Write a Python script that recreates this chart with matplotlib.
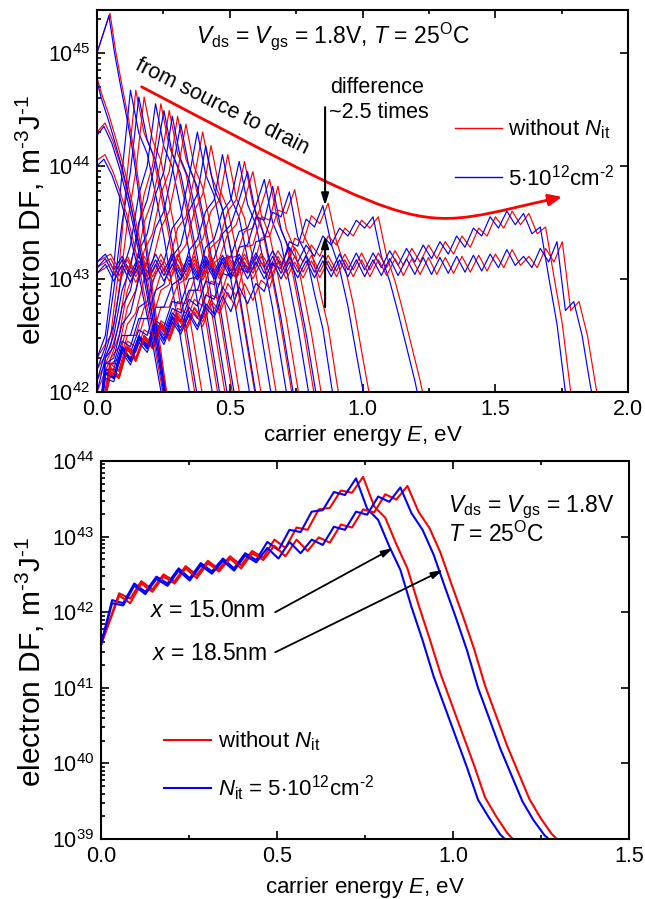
import numpy as np
import matplotlib
matplotlib.use("Agg")
import matplotlib.pyplot as plt
from matplotlib.ticker import LogLocator, LogFormatterMathtext, MultipleLocator, FormatStrFormatter, NullFormatter
from matplotlib.lines import Line2D
from matplotlib.path import Path
from matplotlib.patches import FancyArrowPatch

plt.rcParams['font.family'] = ['Liberation Sans', 'DejaVu Sans']
plt.rcParams['mathtext.fontset'] = 'custom'
plt.rcParams['mathtext.rm'] = 'Liberation Sans'
plt.rcParams['mathtext.it'] = 'Liberation Sans:italic'
plt.rcParams['mathtext.bf'] = 'Liberation Sans:bold'

FS_TICK = 15.5
FS_XLAB = 16
FS_YLAB = 21.5
FS_ANN = 15.5
FS_EQ = 16.5
FS_LEG = 16

# ---------------- energy grids (eV) ----------------
H_STEP = 0.0315
E_BLUE = np.arange(62) * H_STEP
E_RED = np.concatenate([[0.0], np.arange(1, 62) * H_STEP + 0.02])

# ---------------- bottom panel: log10(DF) on the grids ----------------
A_BLUE = [41.57, 42.16, 42.12, 42.38, 42.27, 42.47, 42.38, 42.58, 42.45, 42.65, 42.54, 42.71,
          42.58, 42.78, 42.69, 42.93, 42.82, 43.09, 43.06, 43.33, 43.35, 43.59, 43.55, 43.77,
          43.37, 43.22, 42.87, 42.56, 42.07, 41.63, 41.15, 40.75, 40.35, 39.95, 39.52, 39.28,
          39.06, 38.92]
A_RED = [41.57, 42.25, 42.18, 42.41, 42.30, 42.50, 42.41, 42.61, 42.49, 42.68, 42.57, 42.74,
         42.62, 42.81, 42.72, 42.96, 42.85, 43.12, 43.09, 43.36, 43.38, 43.61, 43.58, 43.79,
         43.40, 43.25, 42.90, 42.58, 42.10, 41.65, 41.18, 40.78, 40.38, 39.98, 39.55, 39.30,
         39.08, 38.92]
B_BLUE = [41.57, 42.12, 42.09, 42.35, 42.24, 42.44, 42.35, 42.55, 42.42, 42.62, 42.51, 42.68,
          42.55, 42.75, 42.66, 42.85, 42.71, 42.93, 42.78, 42.96, 42.89, 43.13, 43.09, 43.33,
          43.29, 43.53, 43.46, 43.65, 43.31, 43.09, 42.76, 42.34, 41.93, 41.50, 41.00, 40.60,
          40.20, 39.85, 39.50, 39.25, 39.05, 38.92]
B_RED = [41.57, 42.22, 42.12, 42.38, 42.27, 42.47, 42.38, 42.58, 42.45, 42.65, 42.54, 42.71,
         42.58, 42.78, 42.69, 42.88, 42.74, 42.96, 42.81, 42.99, 42.92, 43.16, 43.12, 43.36,
         43.32, 43.56, 43.49, 43.67, 43.33, 43.11, 42.78, 42.36, 41.95, 41.52, 41.03, 40.63,
         40.23, 39.88, 39.53, 39.28, 39.07, 38.92]

# ---------------- top panel: band curves (same values on red and blue grids) ----------------
BAND = [
    [42.3, 42.5, 43.1, 43.95, 44.67, 44.29, 44.11, 43.75, 43.37, 42.92, 42.47, 42.02, 41.57],
    [42.2, 42.4, 42.9, 43.5, 43.95, 44.61, 44.23, 44.05, 43.69, 43.31, 42.86, 42.41, 41.96, 41.51],
    [42.1, 42.35, 42.6, 43.05, 43.3, 43.75, 44.0, 44.55, 44.17, 43.99, 43.63, 43.25, 42.8, 42.35, 41.9, 41.45],
    [42.0, 42.3, 42.5, 42.9, 43.1, 43.5, 43.7, 44.05, 44.49, 44.11, 43.93, 43.57, 43.19, 42.74, 42.29, 41.84, 41.4],
    [41.6, 42.3, 42.4, 42.75, 42.9, 43.25, 43.4, 43.75, 43.95, 44.44, 44.06, 43.88, 43.52, 43.14, 42.69, 42.24, 41.79, 41.35],
    [41.6, 42.25, 42.3, 42.6, 42.7, 43.0, 43.15, 43.45, 43.6, 43.95, 44.37, 43.99, 43.81, 43.45, 43.07, 42.62, 42.17, 41.72],
    [41.6, 42.25, 42.25, 42.5, 42.5, 42.75, 42.8, 43.05, 43.15, 43.45, 43.55, 43.9, 44.30, 43.92, 43.74, 43.38, 43.0, 42.55, 42.1, 41.65],
    [41.6, 42.2, 42.2, 42.45, 42.4, 42.65, 42.65, 42.9, 42.95, 43.2, 43.3, 43.6, 43.75, 44.18, 43.8, 43.62, 43.26, 42.88, 42.43, 41.98, 41.53],
    [41.6, 42.2, 42.15, 42.4, 42.35, 42.55, 42.5, 42.75, 42.75, 42.95, 43.0, 43.25, 43.35, 43.6, 43.7, 44.10, 43.72, 43.54, 43.18, 42.8, 42.35, 41.9, 41.45],
    [41.6, 42.18, 42.14, 42.4, 42.3, 42.5, 42.42, 42.63, 42.58, 42.8, 42.78, 43.0, 43.02, 43.28, 43.35, 43.6, 43.7, 44.04, 43.66, 43.48, 43.12, 42.74, 42.29, 41.84, 41.4],
    [41.6, 42.17, 42.13, 42.39, 42.29, 42.49, 42.41, 42.61, 42.53, 42.74, 42.7, 42.9, 42.9, 43.12, 43.18, 43.4, 43.48, 43.7, 43.95, 43.57, 43.39, 43.03, 42.65, 42.2, 41.75],
    [41.6, 42.17, 42.13, 42.39, 42.28, 42.48, 42.4, 42.6, 42.5, 42.7, 42.62, 42.82, 42.76, 42.98, 42.95, 43.18, 43.2, 43.42, 43.45, 43.65, 43.88, 43.5, 43.32, 42.96, 42.58, 42.13, 41.68],
    [41.6, 42.16, 42.12, 42.38, 42.27, 42.47, 42.39, 42.59, 42.47, 42.67, 42.57, 42.75, 42.65, 42.86, 42.82, 43.05, 43.02, 43.28, 43.3, 43.55, 43.52, 43.82, 43.44, 43.26, 42.9, 42.52, 42.07, 41.62],
]

PLATEAU = [
    [43.15, 43.22, 43.08, 43.2, 43.05, 43.2, 43.06, 43.22, 43.07, 43.22, 43.06, 43.2, 43.05, 43.2,
     43.06, 43.21, 43.07, 43.22, 43.08, 43.23, 43.1, 43.25, 43.12, 43.28, 43.15, 43.3, 43.2, 43.38,
     43.3, 43.45, 43.38, 43.52, 43.45, 43.55, 43.2, 42.98, 42.7, 42.4, 42.1, 41.75],
    [43.1, 43.18, 43.03, 43.17, 43.02, 43.16, 43.02, 43.17, 43.03, 43.18, 43.03, 43.17, 43.02, 43.17,
     43.03, 43.18, 43.04, 43.19, 43.05, 43.2, 43.05, 43.2, 43.05, 43.2, 43.06, 43.21, 43.06, 43.21,
     43.07, 43.22, 43.08, 43.23, 43.08, 43.23, 43.1, 43.25, 43.12, 43.27, 43.15, 43.3, 43.18, 43.33,
     43.22, 43.38, 43.28, 43.45, 43.38, 43.55, 43.45, 43.6, 43.48, 43.58, 43.4, 43.46, 43.02, 42.6,
     42.0, 41.6],
    [43.05, 43.13, 42.98, 43.12, 42.97, 43.12, 42.98, 43.13, 42.98, 43.13, 42.99, 43.14, 42.99, 43.14,
     43.0, 43.15, 43.0, 43.15, 43.0, 43.15, 43.0, 43.15, 43.0, 43.15, 43.01, 43.16, 43.01, 43.16,
     43.02, 43.17, 43.02, 43.17, 43.02, 43.17, 43.03, 43.18, 43.03, 43.18, 43.04, 43.19, 43.04, 43.19,
     43.05, 43.2, 43.06, 43.21, 43.07, 43.22, 43.1, 43.26, 43.12, 43.2, 43.1, 43.27, 43.15, 43.33,
     42.72, 42.8, 42.5, 42.05, 41.7],
]

# source-side curves: explicit energies (eV) and log10(DF)
SRC_E_RED = [
    [0.0, 0.049, 0.07, 0.095, 0.12, 0.14, 0.16, 0.19, 0.22, 0.25, 0.275],
    [0.0, 0.02, 0.045, 0.07, 0.10, 0.13, 0.16, 0.19, 0.22, 0.25, 0.275],
    [0.0, 0.03, 0.06, 0.09, 0.12, 0.15, 0.18, 0.21, 0.24, 0.27],
    [0.0, 0.03, 0.06, 0.09, 0.12, 0.15, 0.18, 0.21, 0.24, 0.265],
]
SRC_E_BLUE = [
    [0.0, 0.045, 0.066, 0.091, 0.116, 0.136, 0.156, 0.186, 0.216, 0.246, 0.27],
    [0.0, 0.016, 0.041, 0.066, 0.096, 0.126, 0.156, 0.186, 0.216, 0.246, 0.27],
    [0.0, 0.026, 0.056, 0.086, 0.116, 0.146, 0.176, 0.206, 0.236, 0.266],
    [0.0, 0.026, 0.056, 0.086, 0.116, 0.146, 0.176, 0.206, 0.236, 0.262],
]
SRC_L_RED = [
    [45.0, 45.35, 45.02, 44.7, 44.4, 44.13, 43.8, 43.25, 42.72, 42.2, 41.8],
    [44.78, 44.62, 44.45, 44.25, 44.0, 43.7, 43.35, 43.0, 42.6, 42.15, 41.8],
    [44.3, 44.38, 44.22, 44.0, 43.72, 43.4, 43.05, 42.65, 42.25, 41.8],
    [44.05, 44.1, 43.95, 43.75, 43.5, 43.2, 42.85, 42.5, 42.1, 41.75],
]
SRC_L_BLUE = [
    [45.0, 45.33, 45.0, 44.68, 44.38, 44.11, 43.78, 43.23, 42.7, 42.18, 41.8],
    [44.75, 44.6, 44.42, 44.22, 43.97, 43.67, 43.32, 42.97, 42.57, 42.12, 41.78],
    [44.27, 44.35, 44.2, 43.97, 43.69, 43.37, 43.02, 42.62, 42.22, 41.78],
    [44.0, 44.06, 43.92, 43.72, 43.47, 43.17, 42.82, 42.47, 42.07, 41.72],
]

# annotation arrow "from source to drain": cubic Bezier control points (eV, log10 DF)
PATH_E = [0.168, 1.298, 1.186, 1.751]
PATH_L = [44.70, 43.305, 43.434, 43.726]

fig = plt.figure(figsize=(6.45, 8.99), dpi=100)
ax1 = fig.add_axes([0.1504, 0.5640, 0.8233, 0.4249])
ax2 = fig.add_axes([0.1566, 0.0667, 0.8186, 0.4205])

LW_T = 0.85
LW_B = 1.5


def draw(ax, grid, vals, color, lw):
    ax.plot(grid[:len(vals)], 10 ** np.asarray(vals), color=color, lw=lw)


# ---- top panel ----
for vals in BAND:
    draw(ax1, E_RED, vals, 'red', LW_T)
    draw(ax1, E_BLUE, vals, 'blue', LW_T)
draw(ax1, E_RED, A_RED, 'red', LW_T)
draw(ax1, E_BLUE, A_BLUE, 'blue', LW_T)
draw(ax1, E_RED, B_RED, 'red', LW_T)
draw(ax1, E_BLUE, B_BLUE, 'blue', LW_T)
for vals in PLATEAU:
    draw(ax1, E_RED, vals, 'red', LW_T)
    draw(ax1, E_BLUE, vals, 'blue', LW_T)
for er, lr in zip(SRC_E_RED, SRC_L_RED):
    ax1.plot(er, 10 ** np.asarray(lr), color='red', lw=LW_T)
for eb, lb in zip(SRC_E_BLUE, SRC_L_BLUE):
    ax1.plot(eb, 10 ** np.asarray(lb), color='blue', lw=LW_T)

ax1.set_xlim(0, 2.0)
ax1.set_yscale('log')
ax1.set_ylim(1e42, 10 ** 45.38)

bez = Path(list(zip(PATH_E, 10 ** np.asarray(PATH_L))),
           [Path.MOVETO, Path.CURVE4, Path.CURVE4, Path.CURVE4])
ax1.add_patch(FancyArrowPatch(path=bez, arrowstyle='-|>,head_length=8,head_width=3.5',
                              color='red', lw=2.0, transform=ax1.transData))

ARR_E = 0.859
ax1.annotate('', xy=(ARR_E, 10 ** 43.65), xytext=(ARR_E, 10 ** 44.52),
             arrowprops=dict(arrowstyle='-|>,head_length=0.7,head_width=0.22', color='black', lw=1.5,
                             shrinkA=0, shrinkB=0))
ax1.annotate('', xy=(ARR_E, 10 ** 43.38), xytext=(ARR_E, 10 ** 42.75),
             arrowprops=dict(arrowstyle='-|>,head_length=0.7,head_width=0.22', color='black', lw=1.5,
                             shrinkA=0, shrinkB=0))

ax1.text(0.444, 0.914, r'$V_{\rm ds}$ = $V_{\rm gs}$ = 1.8V, $T$ = 25$^{\rm O}$C', transform=ax1.transAxes,
         ha='center', va='baseline', fontsize=FS_EQ)
ax1.text(0.235, 0.746, 'from source to drain', transform=ax1.transAxes, ha='center', va='center',
         rotation=-26.5, rotation_mode='anchor', fontsize=FS_ANN)
ax1.text(0.439, 0.783, 'difference', transform=ax1.transAxes, ha='left', va='baseline', fontsize=FS_ANN)
ax1.text(0.437, 0.717, '~2.5 times', transform=ax1.transAxes, ha='left', va='baseline', fontsize=FS_ANN)

h1 = [Line2D([], [], color='red', lw=1.0), Line2D([], [], color='blue', lw=1.0)]
ax1.legend(h1, [r'without $N_{\rm it}$', r'5$\cdot$10$^{12}$cm$^{\text{-}2}$'], loc='upper left',
           bbox_to_anchor=(0.674, 0.719), frameon=False, fontsize=FS_LEG, handlelength=2.1,
           handletextpad=0.3, labelspacing=1.05, borderpad=0, borderaxespad=0)

ax1.set_xlabel(r'carrier energy $E$, eV', fontsize=FS_XLAB)
ax1.set_ylabel(r'electron DF, m$^{\text{-}3}$J$^{\text{-}1}$', fontsize=FS_YLAB)

# ---- bottom panel ----
draw(ax2, E_RED, A_RED, 'red', LW_B)
draw(ax2, E_BLUE, A_BLUE, 'blue', LW_B)
draw(ax2, E_RED, B_RED, 'red', LW_B)
draw(ax2, E_BLUE, B_BLUE, 'blue', LW_B)

ax2.set_xlim(0, 1.5)
ax2.set_yscale('log')
ax2.set_ylim(1e39, 1e44)

ax2.text(0.657, 0.865, r'$V_{\rm ds}$ = $V_{\rm gs}$ = 1.8V', transform=ax2.transAxes, ha='left',
         va='baseline', fontsize=FS_EQ)
ax2.text(0.657, 0.786, r'$T$ = 25$^{\rm O}$C', transform=ax2.transAxes, ha='left', va='baseline', fontsize=FS_EQ)
ax2.text(0.093, 0.587, r'$x$ = 15.0nm', transform=ax2.transAxes, ha='left', va='baseline', fontsize=FS_EQ)
ax2.text(0.097, 0.474, r'$x$ = 18.5nm', transform=ax2.transAxes, ha='left', va='baseline', fontsize=FS_EQ)
ax2.annotate('', xy=(0.83, 10 ** 42.85), xytext=(0.495, 10 ** 42.0),
             arrowprops=dict(arrowstyle='-|>,head_length=0.7,head_width=0.2', color='black', lw=1.3,
                             shrinkA=0, shrinkB=0))
ax2.annotate('', xy=(0.972, 10 ** 42.56), xytext=(0.495, 10 ** 41.47),
             arrowprops=dict(arrowstyle='-|>,head_length=0.7,head_width=0.2', color='black', lw=1.3,
                             shrinkA=0, shrinkB=0))

h2 = [Line2D([], [], color='red', lw=LW_B), Line2D([], [], color='blue', lw=LW_B)]
ax2.legend(h2, [r'without $N_{\rm it}$', r'$N_{\rm it}$ = 5$\cdot$10$^{12}$cm$^{\text{-}2}$'], loc='upper left',
           bbox_to_anchor=(0.12, 0.29), frameon=False, fontsize=FS_LEG, handlelength=2.1,
           handletextpad=0.3, labelspacing=0.9, borderpad=0, borderaxespad=0)

ax2.set_xlabel(r'carrier energy $E$, eV', fontsize=FS_XLAB)
ax2.set_ylabel(r'electron DF, m$^{\text{-}3}$J$^{\text{-}1}$', fontsize=FS_YLAB)

for ax in (ax1, ax2):
    ax.xaxis.set_major_locator(MultipleLocator(0.5))
    ax.xaxis.set_minor_locator(MultipleLocator(0.25))
    ax.xaxis.set_major_formatter(FormatStrFormatter('%.1f'))
    ax.yaxis.set_major_locator(LogLocator(base=10, numticks=20))
    ax.yaxis.set_minor_locator(LogLocator(base=10, subs=np.arange(2, 10), numticks=20))
    ax.yaxis.set_major_formatter(LogFormatterMathtext())
    ax.yaxis.set_minor_formatter(NullFormatter())
    ax.tick_params(which='both', direction='in', top=True, right=True, labelsize=FS_TICK, width=1.2)
    ax.tick_params(which='major', length=5.5, pad=5)
    ax.tick_params(which='minor', length=3)
    ax.tick_params(axis='y', which='minor', right=False)
    for s in ax.spines.values():
        s.set_linewidth(1.5)

ax1.yaxis.set_label_coords(-0.094, 0.45)
ax2.yaxis.set_label_coords(-0.102, 0.47)
ax1.xaxis.set_label_coords(0.5, -0.082)
ax2.xaxis.set_label_coords(0.5, -0.095)

fig.savefig('out.png', dpi=100)
